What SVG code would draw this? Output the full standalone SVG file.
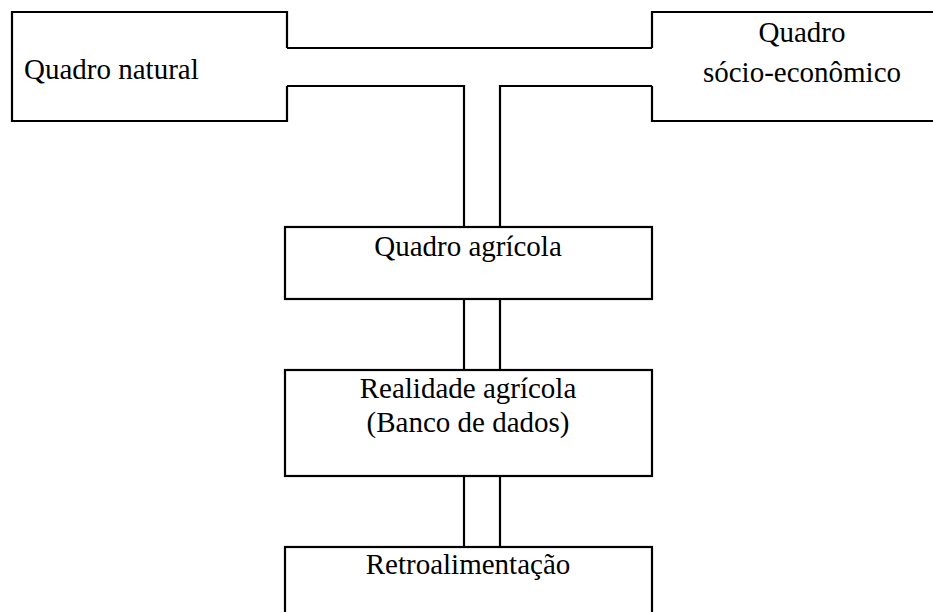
<svg xmlns="http://www.w3.org/2000/svg" width="933" height="612" viewBox="0 0 933 612">
<style>
.ln{fill:none;stroke:#000;stroke-width:2.2}
.bx{fill:#fff;stroke:#000;stroke-width:2.2}
.t{font-family:"Liberation Serif","Times New Roman",serif;font-size:29px;fill:#000}
.m{text-anchor:middle}
</style>
<rect width="933" height="612" fill="#fff"/>
<g id="quadro-natural">
<path class="ln" d="M287,48 L287,12 L12,12 L12,121 L287,121 L287,86"/>
<text class="t" x="24" y="79">Quadro natural</text>
</g>
<g id="quadro-socio-economico">
<path class="ln" d="M652,48 L652,12 L940,12 M940,121 L652,121 L652,86"/>
<text class="t m" x="802" y="42">Quadro</text>
<text class="t m" x="802" y="82">sócio-econômico</text>
</g>
<g id="connectors">
<path class="ln" d="M287,48 L652,48"/>
<path class="ln" d="M287,86 L464,86 L464,227"/>
<path class="ln" d="M652,86 L500,86 L500,227"/>
<path class="ln" d="M464,299 L464,370 M500,299 L500,370"/>
<path class="ln" d="M464,476 L464,547 M500,476 L500,547"/>
</g>
<g id="quadro-agricola">
<rect class="bx" x="285" y="227" width="367" height="72"/>
<text class="t m" x="468" y="256">Quadro agrícola</text>
</g>
<g id="realidade-agricola">
<rect class="bx" x="285" y="370" width="367" height="106"/>
<text class="t m" x="468" y="398">Realidade agrícola</text>
<text class="t m" x="468" y="432">(Banco de dados)</text>
</g>
<g id="retroalimentacao">
<rect class="bx" x="285" y="547" width="367" height="80"/>
<text class="t m" x="468" y="574">Retroalimentação</text>
</g>
</svg>
